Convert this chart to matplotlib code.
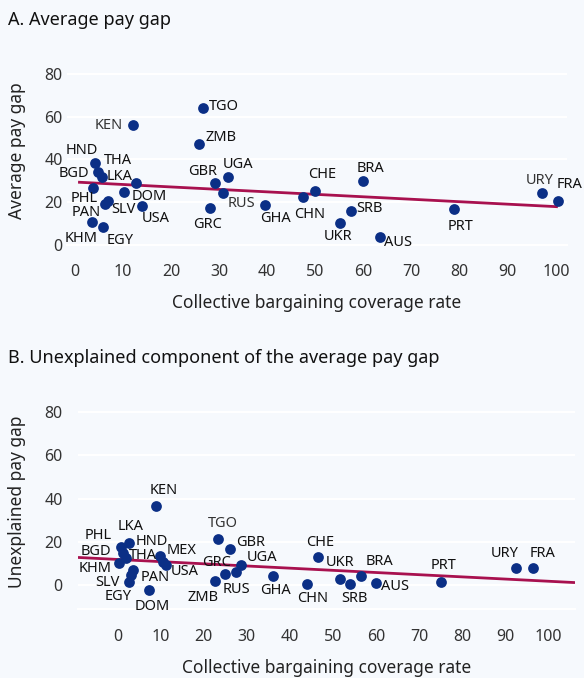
import numpy as np
import matplotlib
matplotlib.use("Agg")
import matplotlib.pyplot as plt

plt.rcParams["font.family"] = ["Noto Sans", "DejaVu Sans"]

# ---- Panel A: average pay gap vs collective bargaining coverage ----
countries_a = ["KEN", "HND", "THA", "LKA", "BGD", "DOM", "SLV", "USA", "PAN", "PHL",
               "KHM", "EGY", "TGO", "ZMB", "GBR", "UGA", "RUS", "GRC", "GHA", "CHN",
               "CHE", "BRA", "SRB", "UKR", "AUS", "PRT", "URY", "FRA"]
coverage_a = [12.2, 4.3, 4.9, 5.6, 3.8, 12.7, 10.3, 14.0, 7.0, 6.3,
              3.6, 5.9, 26.6, 25.9, 29.2, 31.9, 30.8, 28.1, 39.6, 47.4,
              49.9, 60.0, 57.4, 55.1, 63.5, 78.9, 97.2, 100.4]
gap_a = [56.1, 38.2, 34.0, 31.7, 26.8, 29.1, 24.9, 18.2, 20.6, 19.2,
         10.9, 8.3, 63.9, 47.1, 28.9, 31.7, 24.2, 17.2, 18.7, 22.6,
         25.4, 29.9, 16.0, 10.1, 3.9, 16.8, 24.5, 20.6]

# ---- Panel B: unexplained component of the average pay gap ----
countries_b = ["KEN", "LKA", "PHL", "BGD", "THA", "HND", "MEX", "USA", "KHM", "PAN",
               "SLV", "EGY", "DOM", "TGO", "GBR", "UGA", "RUS", "GRC", "ZMB", "GHA",
               "CHE", "CHN", "UKR", "SRB", "BRA", "AUS", "PRT", "URY", "FRA"]
coverage_b = [8.8, 2.7, 0.7, 1.3, 1.9, 9.8, 10.5, 11.2, 0.35, 3.6,
              3.2, 2.7, 7.2, 23.3, 26.1, 28.6, 27.4, 24.9, 22.6, 36.1,
              46.6, 43.9, 51.6, 53.9, 56.5, 60.0, 75.2, 92.6, 96.5]
gap_b = [36.7, 19.3, 17.5, 14.7, 12.4, 13.4, 10.6, 9.4, 10.3, 6.9,
         4.6, 1.5, -2.3, 21.3, 16.5, 9.3, 6.2, 5.1, 2.0, 4.2,
         12.8, 0.5, 2.8, 0.5, 4.2, 0.8, 1.2, 8.0, 8.0]

x_ticks = list(range(0, 101, 10))
y_ticks = [0, 20, 40, 60, 80]

# label placement (offset in pixels from the marker) and light-weight labels
offsets_a = {
    "KEN": (-25, 0), "HND": (-14, 13), "THA": (20, 12), "LKA": (18, 1),
    "BGD": (-19, 14), "DOM": (13, -14), "SLV": (-1, -18), "USA": (14, -12),
    "PAN": (-22, -12), "PHL": (-21, 5), "KHM": (-11, -17), "EGY": (17, -13),
    "TGO": (21, 2), "ZMB": (22, 7), "GBR": (-13, 12), "UGA": (10, 13),
    "RUS": (19, -10), "GRC": (-2, -16), "GHA": (10, -13), "CHN": (7, -18),
    "CHE": (7, 16), "BRA": (7, 13), "SRB": (19, 2), "UKR": (-2, -13),
    "AUS": (18, -6), "PRT": (6, -17), "URY": (-3, 12), "FRA": (12, 16),
}
offsets_b = {
    "KEN": (8, 15), "LKA": (1, 17), "PHL": (-22, 12), "BGD": (-27, 2),
    "THA": (17, 3), "HND": (-8, 14), "MEX": (19, 12), "USA": (19, -7),
    "KHM": (-24, -6), "PAN": (22, -7), "SLV": (-24, -8), "EGY": (-11, -15),
    "DOM": (4, -17), "TGO": (5, 15), "GBR": (21, 7), "UGA": (21, 7),
    "RUS": (1, -18), "GRC": (-8, 11), "ZMB": (-12, -17), "GHA": (2, -15),
    "CHE": (2, 15), "CHN": (6, -15), "UKR": (0, 16), "SRB": (5, -15),
    "BRA": (19, 14), "AUS": (19, -3), "PRT": (2, 17), "URY": (-12, 14),
    "FRA": (9, 14),
}
light_a = {"KEN", "RUS", "URY"}
light_b = {"TGO"}

BG = "#f6f9fd"
DOT = "#0b2f86"
TREND = "#a8114f"
TXT = "#222222"

fig = plt.figure(figsize=(5.84, 6.78), dpi=100, facecolor=BG)
W, H = 584, 678


def panel(ax, xs, ys, names, offsets, light, xlim, ylim, trend_span, ypad):
    ax.set_facecolor(BG)
    ax.set_xlim(*xlim)
    ax.set_ylim(*ylim)
    for s in ["top", "right", "left"]:
        ax.spines[s].set_visible(False)
    ax.spines["bottom"].set_color("white")
    ax.spines["bottom"].set_linewidth(1.5)
    ax.set_yticks(y_ticks)
    ax.set_xticks(x_ticks)
    ax.grid(axis="y", color="white", linewidth=1.6)
    ax.set_axisbelow(True)
    ax.tick_params(axis="x", length=0, labelsize=11.5, labelcolor="#333333", pad=14)
    ax.tick_params(axis="y", length=0, labelsize=11.5, labelcolor="#333333", pad=ypad)
    ax.set_xlabel("Collective bargaining coverage rate", fontsize=12.5,
                  color=TXT, labelpad=10)

    slope, intercept = np.polyfit(xs, ys, 1)
    tx = np.array(trend_span)
    ax.plot(tx, intercept + slope * tx, color=TREND, linewidth=2, zorder=2,
            solid_capstyle="butt")
    ax.scatter(xs, ys, s=60, color=DOT, zorder=3, linewidths=0)
    for name, x, y in zip(names, xs, ys):
        dx, dy = offsets[name]
        is_light = name in light
        ax.annotate(name, (x, y), xytext=(dx, dy), textcoords="offset pixels",
                    ha="center", va="center", fontsize=10.5,
                    fontweight="normal" if is_light else "bold",
                    color="#333333" if is_light else "#111111", zorder=4)


axA = fig.add_axes([67 / W, 1 - 245 / H, 500 / W, 188 / H])
panel(axA, coverage_a, gap_a, countries_a, offsets_a, light_a,
      (-1.6, 102.3), (0, 87.9), (0.7, 100.4), 3)
axA.set_ylabel("Average pay gap", fontsize=12.5, color=TXT, labelpad=13)

axB = fig.add_axes([78 / W, 1 - 609.3 / H, 497 / W, 214.3 / H])
panel(axB, coverage_b, gap_b, countries_b, offsets_b, light_b,
      (-9.2, 106.2), (-11.3, 88), (-9.2, 106.2), 11)
axB.set_ylabel("Unexplained pay gap", fontsize=12.5, color=TXT, labelpad=13)

fig.text(8 / W, 1 - 20 / H, "A. Average pay gap", fontsize=13,
         color="#111111", va="center", ha="left")
fig.text(8 / W, 1 - 358 / H, "B. Unexplained component of the average pay gap",
         fontsize=13, color="#111111", va="center", ha="left")

fig.savefig("out.png", dpi=100, facecolor=BG)
